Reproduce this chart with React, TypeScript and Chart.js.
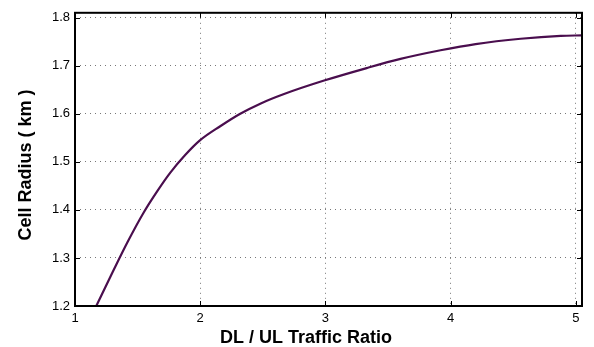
import React, { useEffect, useRef } from "react";
import { Chart, registerables } from "chart.js";

Chart.register(...registerables);

const ratioX: number[] = [1.17, 1.3, 1.42, 1.55, 1.66, 1.76, 1.88, 2.0, 2.16, 2.32, 2.48, 2.67, 2.99, 3.33, 3.6, 3.92, 4.2, 4.56, 4.88, 5.05];
const radiusY: number[] = [1.2, 1.27, 1.333, 1.395, 1.44, 1.477, 1.514, 1.545, 1.574, 1.6, 1.621, 1.641, 1.669, 1.695, 1.714, 1.732, 1.745, 1.756, 1.762, 1.763];
const xTicks: number[] = [1, 2, 3, 4, 5];
const yTicks: number[] = [1.2, 1.3, 1.4, 1.5, 1.6, 1.7, 1.8];
const xTitle = "DL / UL Traffic Ratio";
const yTitle = "Cell Radius ( km )";

const FONT = "Liberation Sans, Arial, sans-serif";

const framePlugin = {
  id: "frame",
  afterDatasetsDraw(chart: any) {
    const { ctx, chartArea: a, scales } = chart;
    ctx.save();
    ctx.strokeStyle = "#000";
    ctx.lineWidth = 1;
    const L = 5;
    ctx.beginPath();
    for (const v of xTicks) {
      const px = Math.round(scales.x.getPixelForValue(v)) + 0.5;
      ctx.moveTo(px, a.bottom);
      ctx.lineTo(px, a.bottom - L);
      ctx.moveTo(px, a.top);
      ctx.lineTo(px, a.top + L);
    }
    for (const v of yTicks) {
      const py = Math.round(scales.y.getPixelForValue(v)) + 0.5;
      ctx.moveTo(a.left, py);
      ctx.lineTo(a.left + L, py);
      ctx.moveTo(a.right, py);
      ctx.lineTo(a.right - L, py);
    }
    ctx.stroke();
    ctx.lineWidth = 2;
    ctx.strokeRect(a.left, a.top, a.right - a.left, a.bottom - a.top);

    ctx.fillStyle = "#000";
    ctx.font = "bold 18px " + FONT;
    ctx.textAlign = "center";
    ctx.textBaseline = "alphabetic";
    ctx.fillText(xTitle, 306, 343);
    ctx.translate(31, 165);
    ctx.rotate(-Math.PI / 2);
    ctx.fillText(yTitle, 0, 0);
    ctx.restore();
  },
};

export default function App() {
  const ref = useRef<HTMLCanvasElement>(null);
  useEffect(() => {
    document.body.style.margin = "0";
    const chart = new Chart(ref.current as HTMLCanvasElement, {
      type: "line",
      data: {
        datasets: [
          {
            data: ratioX.map((x, i) => ({ x, y: radiusY[i] })),
            borderColor: "#4a0e4e",
            borderWidth: 2.2,
            pointRadius: 0,
            cubicInterpolationMode: "monotone",
            fill: false,
          },
        ],
      },
      options: {
        animation: false,
        responsive: false,
        maintainAspectRatio: false,
        layout: { padding: { top: 9, right: 12, left: 0, bottom: 0 } },
        plugins: { legend: { display: false }, tooltip: { enabled: false } },
        scales: {
          x: {
            type: "linear",
            min: 1,
            max: 5.05,
            afterBuildTicks: (s: any) => {
              s.ticks = xTicks.map((v) => ({ value: v }));
            },
            afterFit: (s: any) => {
              s.height = 41;
            },
            grid: { color: "#777", drawTicks: false },
            border: { display: false, dash: [1, 4] },
            ticks: {
              color: "#000",
              font: { family: FONT, size: 13 },
              padding: 5,
              maxRotation: 0,
              callback: (v: any) => String(v),
            },
          },
          y: {
            type: "linear",
            min: 1.2,
            max: 1.81,
            afterBuildTicks: (s: any) => {
              s.ticks = yTicks.map((v) => ({ value: v }));
            },
            afterFit: (s: any) => {
              s.width = 75;
            },
            grid: { color: "#777", drawTicks: false },
            border: { display: false, dash: [1, 4] },
            ticks: {
              color: "#000",
              font: { family: FONT, size: 13 },
              padding: 5,
              callback: (v: any) => Number(v).toFixed(1),
            },
          },
        },
      },
      plugins: [framePlugin],
    });
    return () => chart.destroy();
  }, []);
  return (
    <div style={{ position: "absolute", left: 0, top: 0, width: 594, height: 347, background: "#fff" }}>
      <canvas ref={ref} width={594} height={347} />
    </div>
  );
}
